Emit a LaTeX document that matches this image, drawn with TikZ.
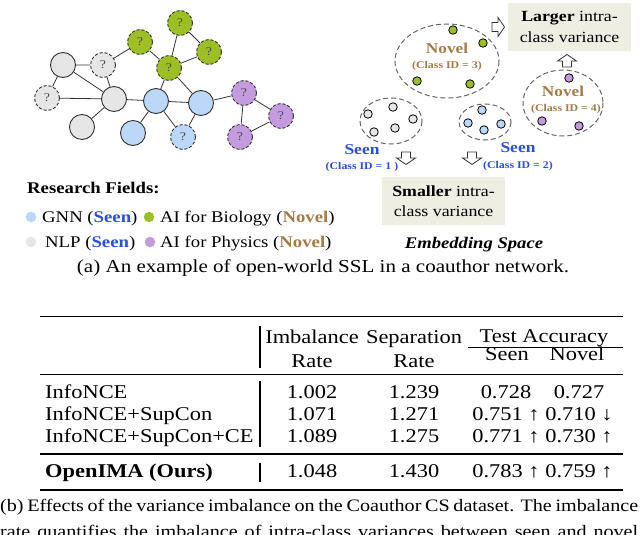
\documentclass[tikz,border=0pt]{standalone}
\usepackage{fontspec}
\setmainfont{Liberation Serif}[FakeStretch=1.15]
\newcommand\fsz[2]{\fontsize{#1}{#2}\selectfont}
\definecolor{cgray}{HTML}{E6E6E6}
\definecolor{cgreen}{HTML}{9CBF26}
\definecolor{cblue}{HTML}{BBD8F8}
\definecolor{cpurple}{HTML}{C59BE0}
\definecolor{cseen}{HTML}{2B4FD8}
\definecolor{cnovel}{HTML}{A37A48}
\definecolor{cbox}{HTML}{EEEEE3}
\definecolor{cline}{HTML}{333333}
\newcommand\hollowarrow[3]{%
  \draw[harr, shift={(#1,#2)}, rotate=#3] (-6,-4.5) -- (0,-4.5) -- (0,-9.5) -- (6.5,0) -- (0,9.5) -- (0,4.5) -- (-6,4.5) -- cycle;}
\tikzset{
  gn/.style={circle, draw=cline, line width=0.9pt, minimum size=25pt, inner sep=0pt},
  unk/.style={gn, dash pattern=on 3pt off 2pt, font=\fsz{12}{12}, text=black!70},
  edge/.style={draw=cline, line width=0.8pt},
  dot/.style={circle, draw=black, line width=0.8pt, minimum size=8.5pt, inner sep=0pt},
  ldot/.style={circle, minimum size=10.5pt, inner sep=0pt},
  clus/.style={draw=black!60, line width=1pt, dash pattern=on 5pt off 3pt},
  harr/.style={draw=black!80, fill=white, line width=0.8pt, line join=miter},
  vbox/.style={fill=cbox, minimum width=123pt, minimum height=48pt, align=center, inner sep=0pt, font=\fsz{15.5}{20.5}},
  tb/.style={anchor=base, inner sep=0pt, font=\fsz{19.5}{22}},
  tbl/.style={tb, anchor=base west},
  lg/.style={anchor=base west, inner sep=0pt, font=\fsz{16.3}{18}},
  nov/.style={anchor=base, inner sep=0pt, text=cnovel, font=\fsz{15}{16}\bfseries},
  cid/.style={anchor=base, inner sep=0pt, font=\fsz{10.3}{11}\bfseries},
  thick rule/.style={line width=1.5pt},
  thin rule/.style={line width=1pt},
  vbar/.style={line width=1.6pt}
}
\begin{document}
\begin{tikzpicture}[x=1pt,y=-1pt]
\useasboundingbox (0,0) rectangle (640,535);
% ---------- graph ----------
\node[gn, fill=cgray] (g1) at (63,65) {};
\node[unk, fill=cgray] (g2) at (103,65) {?};
\node[unk, fill=cgray] (g3) at (47,98) {?};
\node[gn, fill=cgray] (g4) at (114,99) {};
\node[gn, fill=cgray] (g5) at (82,127) {};
\node[unk, fill=cgreen] (n1) at (140,42) {?};
\node[unk, fill=cgreen] (n2) at (180,23) {?};
\node[unk, fill=cgreen] (n3) at (209,52) {?};
\node[unk, fill=cgreen] (n4) at (169,68) {?};
\node[gn, fill=cblue] (b1) at (156,101) {};
\node[gn, fill=cblue] (b2) at (201,103) {};
\node[gn, fill=cblue] (b3) at (133,133) {};
\node[unk, fill=cblue] (b4) at (183,137) {?};
\node[unk, fill=cpurple] (p1) at (244,93) {?};
\node[unk, fill=cpurple] (p2) at (281,116) {?};
\node[unk, fill=cpurple] (p3) at (240,137) {?};
\draw[edge] (g1)--(g2) (g1)--(g3) (g1)--(g4) (g2)--(g4) (g2)--(n1) (g3)--(g4)
  (g4)--(g5) (g4)--(b1) (n1)--(n4) (n4)--(n2) (n4)--(n3) (n2)--(n3)
  (n4)--(b1) (n4)--(b2) (b1)--(b2) (b1)--(b3) (b1)--(b4) (b2)--(b4)
  (b2)--(p1) (p1)--(p2) (p1)--(p3) (p2)--(p3);
% ---------- legend ----------
\node[lg] (rf) at (27,193) {\textbf{Research Fields:}};
\node[ldot, fill=cblue] (ld1) at (31,217) {};
\node[lg] (lt1) at (42,222) {GNN ({\color{cseen}\textbf{Seen}})};
\node[ldot, fill=cgreen] (ld2) at (149,217) {};
\node[lg] (lt2) at (160,222) {AI for Biology ({\color{cnovel}\textbf{Novel}})};
\node[ldot, fill=cgray] (ld3) at (31,242) {};
\node[lg] (lt3) at (45,247) {NLP ({\color{cseen}\textbf{Seen}})};
\node[ldot, fill=cpurple] (ld4) at (150,242) {};
\node[lg] (lt4) at (160,247) {AI for Physics ({\color{cnovel}\textbf{Novel}})};
% ---------- embedding space ----------
\draw[clus] (447,61) ellipse [x radius=52, y radius=37];
\draw[clus] (563,103) ellipse [x radius=40, y radius=33];
\draw[clus] (391,121) ellipse [x radius=31, y radius=23];
\draw[clus] (485,122) ellipse [x radius=26, y radius=18];
\foreach \p [count=\i] in {(453,30),(483,43),(417,81),(470,84)} \node[dot, fill=cgreen] (eg\i) at \p {};
\foreach \p [count=\i] in {(569,78),(542,121),(579,126)} \node[dot, fill=cpurple] (ep\i) at \p {};
\foreach \p [count=\i] in {(368,114),(393,107),(413,119),(374,132),(395,128)} \node[dot, fill=cgray] (ea\i) at \p {};
\foreach \p [count=\i] in {(482,110),(468,123),(484,130),(501,124)} \node[dot, fill=cblue] (eb\i) at \p {};
\node[nov] (nv3) at (447,54) {Novel};
\node[cid, text=cnovel] (ci3) at (447,69) {(Class ID = 3)};
\node[nov] (nv4) at (563,96) {Novel};
\node[cid, text=cnovel] (ci4) at (566,111) {(Class ID = 4)};
\node[nov, text=cseen, font=\fsz{15.2}{16}\bfseries] (sn1) at (362,154) {Seen};
\node[cid, text=cseen] (ci1) at (362,169) {(Class ID = 1 )};
\node[nov, text=cseen, font=\fsz{15.2}{16}\bfseries] (sn2) at (518,152) {Seen};
\node[cid, text=cseen] (ci2) at (518,168) {(Class ID = 2)};
\node[vbox] (lbox) at (569.5,27) {\textbf{Larger} intra-\\class variance};
\node[vbox] (sbox) at (443.5,201) {\textbf{Smaller} intra-\\class variance};
\hollowarrow{498}{27}{0}
\hollowarrow{567}{61}{90}
\hollowarrow{406}{158}{-90}
\hollowarrow{472}{158}{-90}
\node[anchor=base, inner sep=0pt, font=\fsz{16.2}{18}\bfseries\itshape] (es) at (474,248) {Embedding Space};
% ---------- caption a ----------
\node[anchor=base, inner sep=0pt, font=\fsz{18.3}{20}] (capa) at (323,272) {(a) An example of open-world SSL in a coauthor network.};
% ---------- table ----------
\draw[thick rule] (40,316.5) -- (623,316.5);
\draw[thin rule] (468,347) -- (623,347);
\draw[thin rule] (40,374) -- (623,374);
\draw[line width=1.2pt] (40,454) -- (623,454);
\draw[thick rule] (40,490) -- (623,490);
\draw[vbar] (260,326) -- (260,368);
\draw[vbar] (260,381) -- (260,447);
\draw[vbar] (260,463) -- (260,482);
\node[tb] (h1) at (312,343) {Imbalance};
\node[tb] (h2) at (414,343) {Separation};
\node[tb] (h3) at (544,342) {Test Accuracy};
\node[tb] (h4) at (312,367) {Rate};
\node[tb] (h5) at (414,367) {Rate};
\node[tb] (h6) at (507,360) {Seen};
\node[tb] (h7) at (577,360) {Novel};
\foreach \y/\a/\b/\c/\d/\e [count=\i] in {398/InfoNCE/1.002/1.239/0.728/0.727,
  420/InfoNCE+SupCon/1.071/1.271/0.751 ↑/0.710 ↓,
  442/InfoNCE+SupCon+CE/1.089/1.275/0.771 ↑/0.730 ↑}{
  \node[tbl] (r\i a) at (45,\y) {\a};
  \node[tb] (r\i b) at (312,\y) {\b};
  \node[tb] (r\i c) at (414,\y) {\c};
  \node[tb] (r\i d) at (506,\y) {\d};
  \node[tb] (r\i e) at (579,\y) {\e};
}
\node[tbl] (r4a) at (45,477) {\textbf{OpenIMA (Ours)}};
\node[tb] (r4b) at (312,477) {1.048};
\node[tb] (r4c) at (414,477) {1.430};
\node[tb] (r4d) at (506,477) {0.783 ↑};
\node[tb] (r4e) at (579,477) {0.759 ↑};
% ---------- caption b ----------
\begin{scope}
\clip (0,0) rectangle (640,535);
\node[anchor=base west, inner sep=0pt, font=\fsz{17.5}{20}] (capb1) at (0,511) {\makebox[638pt][s]{(b) Effects of the variance imbalance on the Coauthor CS dataset. The imbalance}};
\node[anchor=base west, inner sep=0pt, font=\fsz{17.5}{20}] (capb2) at (0,537) {\makebox[638pt][s]{rate quantifies the imbalance of intra-class variances between seen and novel}};
\end{scope}
\end{tikzpicture}
\end{document}
